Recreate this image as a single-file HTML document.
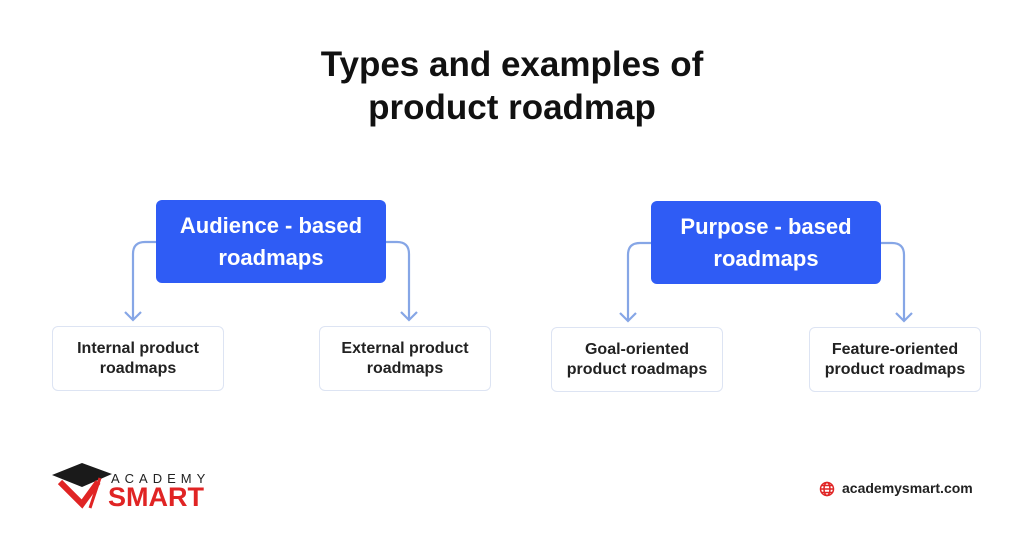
<!DOCTYPE html><html><head><style>
body{margin:0;width:1024px;height:539px;background:#fff;font-family:"Liberation Sans",sans-serif;position:relative;overflow:hidden}
.t{position:absolute;left:0;width:1024px;text-align:center;font-weight:bold;font-size:35px;color:#111;line-height:43px;top:43px}
.b{position:absolute;background:#2f5cf5;color:#fff;border-radius:6px;font-weight:bold;font-size:22px;line-height:32px;text-align:center;display:flex;align-items:center;justify-content:center;width:230px;height:83px}
.c{position:absolute;border:1.5px solid #dde4f3;border-radius:6px;width:170px;height:63px;display:flex;align-items:center;justify-content:center;text-align:center;font-size:16px;line-height:20px;font-weight:bold;color:#222}
</style></head><body>
<div class="t">Types and examples of<br>product roadmap</div>
<svg width="1024" height="539" style="position:absolute;left:0;top:0" fill="none" stroke="#86a6e6" stroke-width="2.2">
<path d="M156 242H145Q133 242 133 254V320M125 312L133 320L141 312"/>
<path d="M386 242H397Q409 242 409 254V320M401 312L409 320L417 312"/>
<path d="M651 243H640Q628 243 628 255V321M620 313L628 321L636 313"/>
<path d="M881 243H892Q904 243 904 255V321M896 313L904 321L912 313"/>
</svg>
<div class="b" style="left:156px;top:200px">Audience - based<br>roadmaps</div>
<div class="b" style="left:651px;top:201px">Purpose - based<br>roadmaps</div>
<div class="c" style="left:52px;top:326px">Internal product<br>roadmaps</div>
<div class="c" style="left:319px;top:326px">External product<br>roadmaps</div>
<div class="c" style="left:551px;top:327px">Goal-oriented<br>product roadmaps</div>
<div class="c" style="left:809px;top:327px">Feature-oriented<br>product roadmaps</div>
<svg width="70" height="60" style="position:absolute;left:50px;top:460px">
<polygon points="2,15 32,3 62,14 32,27" fill="#1a1a1a"/>
<path d="M10 22L32 44L48 22" stroke="#e02424" stroke-width="6" fill="none"/>
<path d="M50 18L40 48" stroke="#e02424" stroke-width="3"/>
</svg>
<div style="position:absolute;left:111px;top:471px;font-size:13px;letter-spacing:5px;color:#222">ACADEMY</div>
<div style="position:absolute;left:108px;top:482px;font-size:27px;font-weight:bold;color:#e02424;letter-spacing:0px">SMART</div>
<svg width="16" height="16" style="position:absolute;left:819px;top:481px" fill="none" stroke="#e02424" stroke-width="1.5"><circle cx="8" cy="8" r="6.5"/><ellipse cx="8" cy="8" rx="3" ry="6.5"/><path d="M1.5 8H14.5M3 4.5H13M3 11.5H13"/></svg>
<div style="position:absolute;left:842px;top:480px;font-size:14px;font-weight:bold;color:#222">academysmart.com</div>
</body></html>
